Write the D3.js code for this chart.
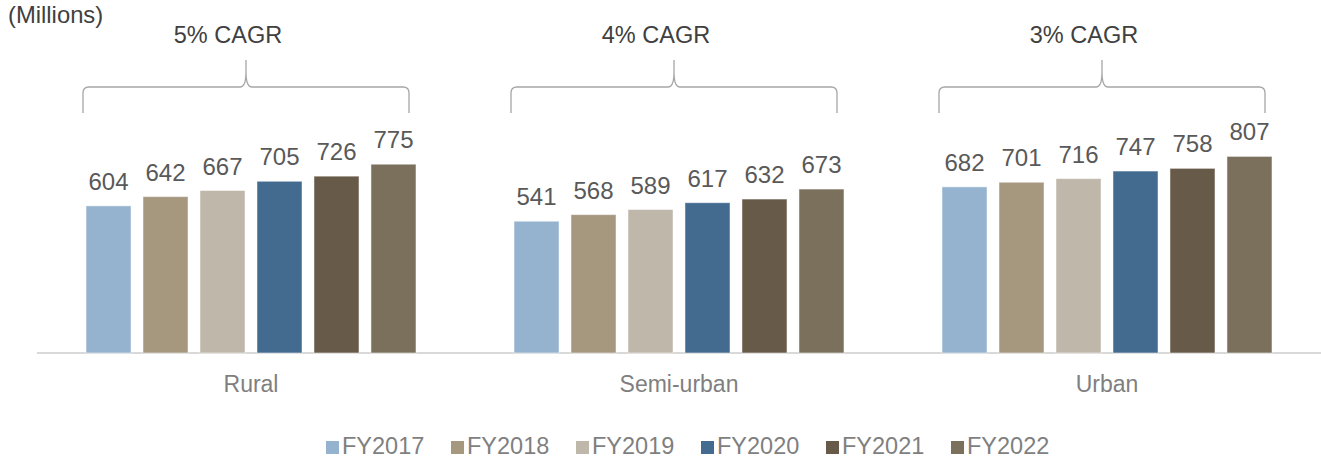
<!DOCTYPE html>
<html>
<head>
<meta charset="utf-8">
<script src="https://cdn.jsdelivr.net/npm/d3@7"></script>
<style>
	body { margin: 0; background: #fff; }
	svg { display: block; font-family: 'Liberation Sans', Arial, sans-serif; }
</style>
</head>
<body>
<svg id="chart"></svg>
<script>
const categories = ['Rural', 'Semi-urban', 'Urban'];
const years = ['FY2017', 'FY2018', 'FY2019', 'FY2020', 'FY2021', 'FY2022'];
const rural = [604, 642, 667, 705, 726, 775];
const semiUrban = [541, 568, 589, 617, 632, 673];
const urban = [682, 701, 716, 747, 758, 807];
const cagr = ['5% CAGR', '4% CAGR', '3% CAGR'];
const colours = ['#95b3cf', '#a6977f', '#bfb7aa', '#436a8f', '#675a49', '#7b705b'];

const series = [rural, semiUrban, urban];

const width = 1321;
const height = 459;
const baseline = 353;

const svg = d3.select('#chart')
	.attr('width', width)
	.attr('height', height);

const x0 = d3.scaleBand()
	.domain(categories)
	.range([37, width]);

const x1 = d3.scaleBand()
	.domain(years)
	.range([0, x0.bandwidth()])
	.paddingInner(0.21)
	.paddingOuter(0.86);

const y = d3.scaleLinear()
	.domain([0, 1000])
	.range([baseline, baseline - 243.6]);

const colour = d3.scaleOrdinal().domain(years).range(colours);

// baseline
svg.append('line')
	.attr('x1', 37).attr('x2', width)
	.attr('y1', baseline).attr('y2', baseline)
	.attr('stroke', '#d9d9d9')
	.attr('stroke-width', 2);

const groups = svg.selectAll('g.group')
	.data(categories)
	.enter().append('g')
		.attr('class', 'group')
		.attr('transform', d => `translate(${x0(d)},0)`);

groups.selectAll('rect')
	.data((d, i) => series[i].map((v, j) => ({year: years[j], value: v})))
	.enter().append('rect')
		.attr('x', d => x1(d.year))
		.attr('y', d => y(d.value))
		.attr('width', x1.bandwidth())
		.attr('height', d => baseline - y(d.value))
		.attr('fill', d => colour(d.year))
		.attr('stroke', '#ffffff')
		.attr('stroke-opacity', 0.5)
		.attr('stroke-width', 1);

groups.selectAll('text.value')
	.data((d, i) => series[i].map((v, j) => ({year: years[j], value: v})))
	.enter().append('text')
		.attr('class', 'value')
		.attr('x', d => x1(d.year) + x1.bandwidth() / 2)
		.attr('y', d => y(d.value) - 16)
		.attr('text-anchor', 'middle')
		.attr('font-size', 24)
		.attr('fill', '#595959')
		.text(d => d.value);

// category labels
groups.append('text')
	.attr('x', x0.bandwidth() / 2)
	.attr('y', 392)
	.attr('text-anchor', 'middle')
	.attr('font-size', 23)
	.attr('fill', '#7f7f7f')
	.text(d => d);

// braces with CAGR
const bl = 46, br = 372, bm = 209, r = 6;
const by = 87, bbot = 113, btop = 60;
function bracePath() {
	return `M${bl},${bbot} L${bl},${by + r} Q${bl},${by} ${bl + r},${by}`
		+ ` L${bm - r},${by} Q${bm},${by} ${bm},${btop + 12} L${bm},${btop}`
		+ ` M${bm},${btop + 12} Q${bm},${by} ${bm + r},${by}`
		+ ` L${br - r},${by} Q${br},${by} ${br},${by + r} L${br},${bbot}`;
}
groups.append('path')
	.attr('d', bracePath)
	.attr('fill', 'none')
	.attr('stroke', '#a6a6a6')
	.attr('stroke-width', 1.3);

groups.append('text')
	.attr('x', bm - 18)
	.attr('y', 43)
	.attr('text-anchor', 'middle')
	.attr('font-size', 23.5)
	.attr('fill', '#404040')
	.text((d, i) => cagr[i]);

svg.append('text')
	.attr('x', 8)
	.attr('y', 23)
	.attr('font-size', 23.8)
	.attr('fill', '#404040')
	.text('(Millions)');

// legend
const pitch = 125;
const lx = 326;
const legend = svg.append('g')
	.selectAll('g')
	.data(years)
	.enter().append('g')
		.attr('transform', (d, i) => `translate(${lx + i * pitch},0)`);
legend.append('rect')
	.attr('x', 0).attr('y', 441)
	.attr('width', 13).attr('height', 13)
	.attr('fill', d => colour(d));
legend.append('text')
	.attr('x', 16)
	.attr('y', 453.5)
	.attr('font-size', 23.5)
	.attr('fill', '#7f7f7f')
	.text(d => d);
</script>
</body>
</html>
